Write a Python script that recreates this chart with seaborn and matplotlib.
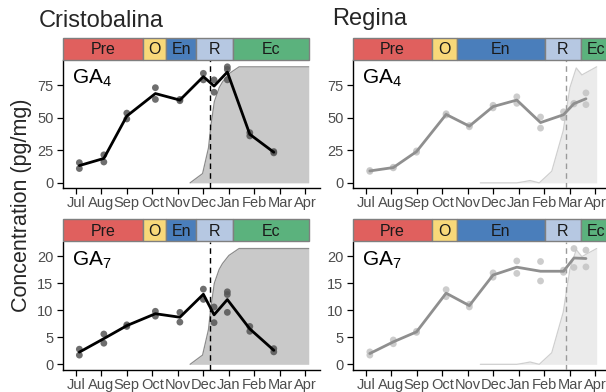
import numpy as np
import pandas as pd
import matplotlib
matplotlib.use("Agg")
import matplotlib.pyplot as plt
from matplotlib.patches import Rectangle
import seaborn as sns

# ---------------- data ----------------
months = ["Jul", "Aug", "Sep", "Oct", "Nov", "Dec", "Jan", "Feb", "Mar", "Apr"]

cristo_x = [0.14, 1.1, 2.0, 3.12, 4.08, 5.0, 5.42, 5.94, 6.82, 7.76]
cristo_ga4 = [[15.5, 11], [21.5, 16], [53.5, 49], [73, 64], [64, 63], [84, 79],
              [79, 69.5], [89, 87, 79], [38.5, 36], [24, 23]]
cristo_ga7 = [[2.8, 1.7], [5.6, 3.9], [7.3, 7.0], [9.8, 8.9], [9.6, 7.8], [13.9, 12.0],
              [10.6, 7.7], [13.4, 12.9, 9.6], [7.0, 6.1], [2.9, 2.3]]

regina_x = [0.16, 1.08, 1.99, 3.15, 4.06, 4.99, 5.92, 6.85, 7.75, 8.16, 8.63]
regina_ga4 = [[9.5, 8.8], [12, 11.5], [24.5, 23.5], [53, 52], [44, 43], [59.5, 57.5],
              [66, 61], [50.5, 42], [54.5, 50], [61, 60.5], [69, 60]]
regina_ga7 = [[2.3, 1.7], [4.5, 3.8], [6.1, 5.9], [13.8, 12.5], [11.1, 10.6], [16.9, 16.1],
              [19.1, 16.8], [19.0, 15.4], [17.4, 17.0], [21.4, 17.9], [21.1, 18.0]]

# phenology (percent), drawn as the grey area
cristo_pheno_x = [4.48, 4.97, 5.2, 5.3, 5.43, 5.62, 5.75, 6.0, 6.4, 9.13]
cristo_pheno_pct = [0, 8, 30, 50, 70, 82, 87, 94, 100, 100]
regina_pheno_x = [4.49, 5.0, 5.5, 5.92, 6.2, 6.44, 6.8, 7.29, 7.74, 8.0, 8.25, 8.47, 9.05]
regina_pheno_pct = [0, 0, 0, 0, 1, 2, 0, 10, 45, 82, 99, 93, 100]

# dormancy release date (dashed line)
cristo_release = 5.26
regina_release = 7.86

# phases
phase_names = ["Pre", "O", "En", "R", "Ec"]
phase_colors = ["#E0605E", "#F8D879", "#4A7EBB", "#B6C8E2", "#5BB27D"]
cristo_phase_bounds = [-0.5, 2.62, 3.54, 4.71, 6.16, 9.13]
regina_phase_bounds = [-0.5, 2.61, 3.56, 7.02, 8.44, 9.6]

# ---------------- style ----------------
sns.set_theme(style="ticks")
plt.rcParams["font.family"] = ["Liberation Sans", "DejaVu Sans"]
plt.rcParams["mathtext.fontset"] = "custom"
plt.rcParams["mathtext.rm"] = "Liberation Sans"


def long_df(xs, reps):
    rows = []
    for x, r in zip(xs, reps):
        for v in r:
            rows.append({"x": x, "y": v})
    return pd.DataFrame(rows)


fig = plt.figure(figsize=(6.06, 3.92), dpi=100)

W = 0.424
lefts = {"c": 0.104, "r": 0.5825}
rows_pos = {"GA4": (0.520, 0.847, 0.057), "GA7": (0.0561, 0.383, 0.0587)}
ylims = {"GA4": (-4.06, 94.1), "GA7": (-1.05, 22.6)}
yticks = {"GA4": [0, 25, 50, 75], "GA7": [0, 5, 10, 15, 20]}
labels = {"GA4": r"GA$_\mathregular{4}$", "GA7": r"GA$_\mathregular{7}$"}

data = {
    ("c", "GA4"): cristo_ga4, ("c", "GA7"): cristo_ga7,
    ("r", "GA4"): regina_ga4, ("r", "GA7"): regina_ga7,
}

for hormone in ["GA4", "GA7"]:
    top = max(max(max(r) for r in data[("c", hormone)]),
              max(max(r) for r in data[("r", hormone)]))
    ab, pb, ph = rows_pos[hormone]
    for cv in ["c", "r"]:
        ax = fig.add_axes([lefts[cv], ab, W, 0.3265])
        pax = fig.add_axes([lefts[cv], pb, W, ph])
        if cv == "c":
            xs, px, pp, rel, bounds = cristo_x, cristo_pheno_x, cristo_pheno_pct, cristo_release, cristo_phase_bounds
            fill_c, edge_c, line_c, pt_c, dash_c = "#C9C9C9", "#8C8C8C", "black", "#555555", "black"
        else:
            xs, px, pp, rel, bounds = regina_x, regina_pheno_x, regina_pheno_pct, regina_release, regina_phase_bounds
            fill_c, edge_c, line_c, pt_c, dash_c = "#EBEBEB", "#CFCFCF", "#8F8F8F", "#C4C4C4", "#9A9A9A"

        pheno_y = np.array(pp) / 100.0 * top
        ax.fill_between(px, 0, pheno_y, color=fill_c, lw=0, zorder=1)
        ax.plot(px, pheno_y, color=edge_c, lw=0.9, zorder=1.5)

        df = long_df(xs, data[(cv, hormone)])
        sns.scatterplot(data=df, x="x", y="y", ax=ax, color=pt_c, s=24,
                        edgecolor="none", alpha=0.85, zorder=3, legend=False)
        sns.lineplot(data=df, x="x", y="y", ax=ax, color=line_c, lw=2.0,
                     errorbar=None, zorder=4, legend=False)
        ax.axvline(rel, color=dash_c, ls=(0, (4, 3)), lw=1.0, zorder=5)

        ax.set_xlim(-0.5, 9.57)
        ax.set_ylim(*ylims[hormone])
        ax.set_xticks(range(len(months)))
        ax.set_xticklabels(months)
        ax.set_yticks(yticks[hormone])
        ax.set_xlabel("")
        ax.set_ylabel("")
        sns.despine(ax=ax)
        for s in ["left", "bottom"]:
            ax.spines[s].set_color("black")
            ax.spines[s].set_linewidth(1.0)
        ax.tick_params(axis="both", length=4.3, width=0.9, color="black",
                       labelcolor="#4D4D4D", labelsize=10.5)
        ax.tick_params(axis="x", pad=1.5)
        ax.tick_params(axis="y", pad=2.5)
        ax.text(0.035, 0.82, labels[hormone], transform=ax.transAxes,
                fontsize=15, color="black", va="baseline", ha="left", zorder=6)

        # phase bar
        pax.set_xlim(-0.5, 9.57)
        pax.set_ylim(0, 1)
        pax.axis("off")
        for i, name in enumerate(phase_names):
            x0, x1 = bounds[i], bounds[i + 1]
            pax.add_patch(Rectangle((x0, 0.02), x1 - x0, 0.96, facecolor=phase_colors[i],
                                    edgecolor="#7F7F7F", lw=1.0, clip_on=False))
            pax.text((x0 + x1) / 2, 0.47, name, ha="center", va="center",
                     fontsize=11.5, color="#1A1A1A", clip_on=False)

fig.text(0.064, 1 - 26.7 / 392, "Cristobalina", fontsize=17, va="baseline", ha="left")
fig.text(0.548, 1 - 25.5 / 392, "Regina", fontsize=17, va="baseline", ha="left")
fig.text(0.036, 0.476, "Concentration (pg/mg)", rotation=90, fontsize=15.5,
         va="center", ha="center")

fig.savefig("out.png", dpi=100)
